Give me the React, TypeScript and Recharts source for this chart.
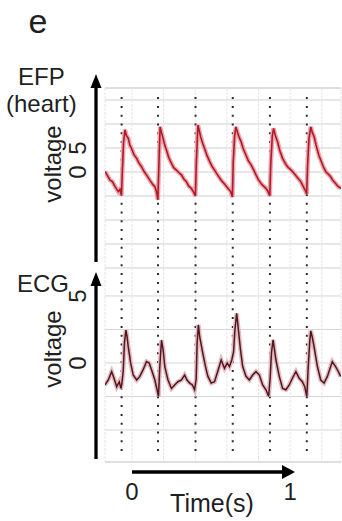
import { ComposedChart, Line, XAxis, YAxis, CartesianGrid, ReferenceLine } from 'recharts';

// beat onsets (s), shared by both traces
const beatTimes = [-0.065, 0.165, 0.402, 0.637, 0.872, 1.105];

// EFP (heart) trace
const efpTime = [
  -0.170, -0.157, -0.138, -0.123, -0.107, -0.086, -0.075, -0.066,
  -0.060, -0.053, -0.044, -0.035, -0.023, -0.013, -0.002, 0.013, 0.030, 0.044, 0.061, 0.075, 0.092, 0.113, 0.134, 0.145, 0.155, 0.164,
  0.171, 0.178, 0.186, 0.197, 0.208, 0.218, 0.233, 0.250, 0.264, 0.281, 0.296, 0.313, 0.327, 0.344, 0.358, 0.375, 0.390, 0.401,
  0.407, 0.417, 0.424, 0.434, 0.447, 0.459, 0.475, 0.491, 0.506, 0.522, 0.541, 0.564, 0.585, 0.606, 0.623, 0.635,
  0.640, 0.649, 0.657, 0.667, 0.678, 0.690, 0.704, 0.721, 0.736, 0.753, 0.767, 0.784, 0.799, 0.816, 0.830, 0.847, 0.859, 0.871,
  0.877, 0.887, 0.895, 0.906, 0.920, 0.934, 0.952, 0.969, 0.983, 1.003, 1.025, 1.044, 1.067, 1.082, 1.099, 1.104,
  1.110, 1.119, 1.130, 1.140, 1.151, 1.162, 1.172, 1.182, 1.193, 1.208, 1.225, 1.239, 1.256, 1.270, 1.287, 1.302, 1.321,
];
const efpVolt = [
  0.1, -0.6, -1.7, -2.0, -3.0, -4.1, -3.6, -4.9,
  0.5, 6.0, 8.8, 7.6, 7.0, 5.6, 4.9, 3.6, 2.85, 1.9, 1.1, 0.2, -0.6, -1.7, -2.7, -3.0, -4.1, -5.8,
  2.0, 9.4, 8.3, 7.0, 5.5, 4.6, 3.0, 1.8, 0.9, 0.4, -0.1, -0.6, -1.4, -2.0, -2.9, -3.4, -4.2, -5.0,
  2.0, 9.8, 8.8, 7.4, 6.0, 4.9, 3.4, 2.2, 1.2, 0.4, -0.6, -1.7, -2.5, -3.4, -4.0, -5.2,
  2.0, 7.5, 9.4, 8.3, 7.2, 6.3, 4.8, 3.5, 2.3, 1.5, 0.6, -0.6, -1.6, -2.4, -2.9, -3.4, -4.0, -5.0,
  1.5, 7.5, 9.1, 7.6, 6.3, 4.5, 2.85, 1.8, 1.1, 0.5, -0.3, -1.1, -2.0, -3.0, -4.1, -4.6,
  1.5, 7.0, 9.4, 8.2, 7.4, 5.8, 4.6, 3.4, 2.5, 1.2, 0.06, -0.4, -1.0, -1.8, -2.4, -3.0, -3.4,
];

// ECG trace
const ecgTime = [
  -0.170, -0.149, -0.128, -0.113, -0.096, -0.080, -0.069,
  -0.063, -0.055, -0.047, -0.038, -0.031, -0.023, -0.008, 0.008, 0.030, 0.050, 0.071, 0.092, 0.109, 0.124, 0.145, 0.159, 0.168,
  0.176, 0.187, 0.197, 0.208, 0.228, 0.250, 0.270, 0.291, 0.313, 0.333, 0.348, 0.365, 0.382, 0.396,
  0.406, 0.412, 0.420, 0.428, 0.448, 0.465, 0.480, 0.501, 0.522, 0.543, 0.564, 0.585, 0.602, 0.616, 0.631,
  0.642, 0.651, 0.662, 0.673, 0.686, 0.700, 0.721, 0.742, 0.763, 0.784, 0.805, 0.826, 0.847, 0.864,
  0.874, 0.882, 0.892, 0.910, 0.931, 0.952, 0.973, 0.994, 1.014, 1.036, 1.057, 1.077, 1.092, 1.105,
  1.113, 1.123, 1.130, 1.140, 1.151, 1.172, 1.193, 1.214, 1.235, 1.266, 1.287, 1.302, 1.319,
];
const ecgVolt = [
  -1.64, -1.27, -0.65, -1.14, -1.77, -1.4, -1.9,
  -1.5, -0.6, 1.5, 2.46, 2.0, 1.2, 0.0, -0.9, -1.27, -1.0, -0.5, 0.1, 0.0, -0.5, -1.27, -2.0, -2.5,
  -0.3, 1.7, 1.0, -0.3, -1.27, -1.9, -1.64, -1.4, -1.27, -0.9, -1.27, -1.5, -1.64, -2.0,
  -1.2, 1.5, 2.84, 1.96, 0.72, -0.27, -1.0, -1.5, -1.4, -0.6, 0.22, -0.4, 0.0, -0.27, 0.22,
  0.8, 2.5, 3.7, 2.46, 0.97, -0.27, -1.0, -1.27, -0.9, -0.65, -0.9, -1.64, -2.0, -2.5,
  -1.0, 0.8, 1.72, 0.22, -1.0, -1.9, -2.0, -1.64, -1.14, -0.65, -1.14, -1.4, -1.77, -2.5,
  -0.5, 1.5, 2.4, 1.9, 1.2, -0.27, -1.27, -1.5, -1.0, 0.1, -0.27, -0.6, -1.0,
];

const timeTicks = [0, 0.2, 0.4, 0.6, 0.8, 1, 1.2];
const timeLabels = [0, 1];
const efpGridTicks = [-20, -15, -10, -5, 0, 5, 10, 15];
const ecgGridTicks = [-5, -2.5, 0, 2.5, 5];
const voltLabels = [0, 5];

const efpData = efpTime.map((t, i) => ({ t, v: efpVolt[i] }));
const ecgData = ecgTime.map((t, i) => ({ t, v: ecgVolt[i] }));

const FONT = '"Liberation Sans", Arial, sans-serif';
const INK = '#1f1f1f';

const VoltTick = ({ y, payload }: any) => {
  if (!voltLabels.includes(payload.value)) return <g />;
  return (
    <text transform={`translate(86, ${y}) rotate(-90)`} textAnchor="middle" fontSize={24} fontFamily={FONT} fill={INK}>
      {payload.value}
    </text>
  );
};

const TimeTick = ({ x, payload }: any) => {
  if (!timeLabels.includes(payload.value)) return <g />;
  return (
    <text x={x} y={500} textAnchor="middle" fontSize={24} fontFamily={FONT} fill={INK}>
      {payload.value}
    </text>
  );
};

export default function App() {
  return (
    <div style={{ position: 'absolute', left: 0, top: 0, width: 342, height: 521, background: '#fff' }}>
      <ComposedChart width={342} height={521} margin={{ top: 88, right: 0, bottom: 0, left: 0 }}>
        <XAxis
          type="number"
          dataKey="t"
          domain={[-0.17, 1.321]}
          allowDataOverflow
          ticks={timeTicks}
          interval={0}
          axisLine={false}
          tickLine={false}
          height={59}
          tick={<TimeTick />}
        />
        <YAxis
          yAxisId="efp"
          type="number"
          domain={[-60.42, 17.5]}
          allowDataOverflow
          ticks={efpGridTicks}
          interval={0}
          axisLine={false}
          tickLine={false}
          width={105}
          tick={<VoltTick />}
        />
        <YAxis
          yAxisId="ecg"
          orientation="right"
          type="number"
          domain={[-7.39, 20.52]}
          allowDataOverflow
          ticks={ecgGridTicks}
          interval={0}
          axisLine={false}
          tickLine={false}
          width={1}
          tick={<VoltTick />}
        />
        <CartesianGrid yAxisId="efp" vertical={false} stroke="#cfcfcf" strokeWidth={1} />
        <CartesianGrid yAxisId="ecg" vertical={false} stroke="#d6d6d6" strokeWidth={1} />
        <CartesianGrid yAxisId="efp" horizontal={false} stroke="#e6e6e6" strokeWidth={1} strokeDasharray="3 1" />
        {beatTimes.map((t) => (
          <ReferenceLine
            key={t}
            yAxisId="efp"
            segment={[{ x: t, y: 15.6 }, { x: t, y: -58.3 }]}
            stroke="#2b2b2b"
            strokeWidth={2}
            strokeDasharray="2 6.8"
          />
        ))}
        <Line yAxisId="efp" data={efpData} dataKey="v" type="linear" stroke="#eba5ac" strokeWidth={4.5} dot={false} isAnimationActive={false} />
        <Line yAxisId="efp" data={efpData} dataKey="v" type="linear" stroke="#b01a28" strokeWidth={1.6} dot={false} isAnimationActive={false} />
        <Line yAxisId="ecg" data={ecgData} dataKey="v" type="linear" stroke="#e5b9bd" strokeWidth={4.5} dot={false} isAnimationActive={false} />
        <Line yAxisId="ecg" data={ecgData} dataKey="v" type="linear" stroke="#4e1820" strokeWidth={1.5} dot={false} isAnimationActive={false} />
      </ComposedChart>

      <svg width={342} height={521} style={{ position: 'absolute', left: 0, top: 0, pointerEvents: 'none' }}>
        <g fontFamily={FONT} fill={INK}>
          <text x={28.5} y={33} fontSize={34}>e</text>
          <text x={18} y={85} fontSize={24}>EFP</text>
          <text x={6} y={112} fontSize={24}>(heart)</text>
          <text transform="translate(61, 164) rotate(-90)" textAnchor="middle" fontSize={24}>voltage</text>
          <text x={17} y={292} fontSize={24}>ECG</text>
          <text transform="translate(61, 349) rotate(-90)" textAnchor="middle" fontSize={24}>voltage</text>
          <text x={212} y={512} textAnchor="middle" fontSize={25}>Time(s)</text>
        </g>
        {/* axis arrows */}
        <g stroke="#000" strokeWidth={3.3}>
          <line x1={96} y1={86} x2={96} y2={262} />
          <line x1={96} y1={284} x2={96} y2={459} />
          <line x1={132} y1={472} x2={284} y2={472} strokeWidth={3.6} />
        </g>
        <g fill="#000">
          <polygon points="96,74 90.5,88 101.5,88" />
          <polygon points="96,272 90.5,286 101.5,286" />
          <polygon points="295,472 282,465 282,479" />
        </g>
      </svg>
    </div>
  );
}
